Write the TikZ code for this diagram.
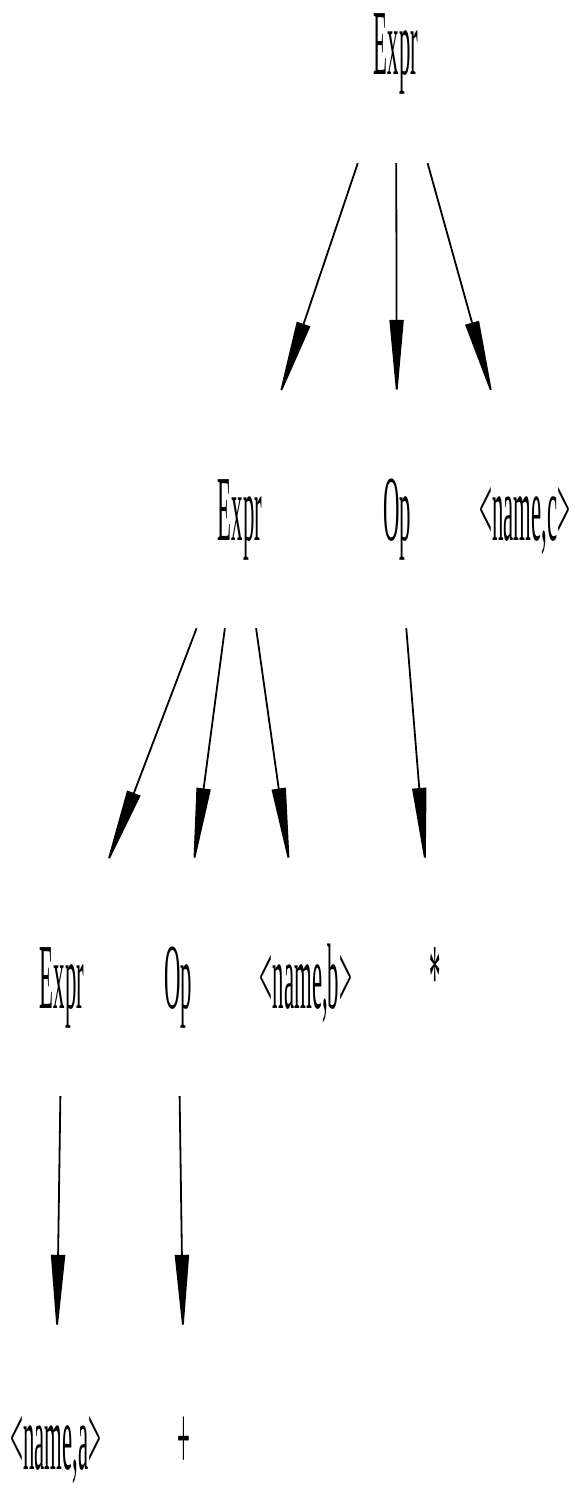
\documentclass[tikz,border=0pt]{standalone}
\usepackage{fontspec}
\setmainfont{Liberation Serif}
\usetikzlibrary{arrows.meta}

\begin{document}
\begin{tikzpicture}[
  x=1pt, y=-1pt,
  simbolo/.style={font=\fontsize{93}{93}\selectfont, inner sep=0pt,
                  text height=140pt, text depth=88pt, minimum width=380pt,
                  xscale=0.245, anchor=base},
  hoja/.style={simbolo, text height=134pt, text depth=0pt},
  arista/.style={-{Triangle[length=80pt, width=14pt]}, line width=1.8pt}
]
\useasboundingbox (0,0) rectangle (574,1490);

\node[simbolo] (raiz) at (396,75) {Expr};

\node[simbolo] (expr2) at (240,540) {Expr};
\node[simbolo] (op2) at (397,540) {Op};
\node[simbolo] (namec) at (525,540) {<name,c>};

\node[simbolo] (expr3) at (62,1008) {Expr};
\node[simbolo] (op3) at (178,1008) {Op};
\node[simbolo] (nameb) at (306,1008) {<name,b>};
\node[simbolo] (por) at (435,1008) {*};

\node[hoja] (namea) at (56,1469) {<name,a>};
\node[hoja] (mas) at (184,1469) {+};

\draw[arista] (raiz) -- (expr2);
\draw[arista] (raiz) -- (op2);
\draw[arista] (raiz) -- (namec);
\draw[arista] (expr2) -- (expr3);
\draw[arista] (expr2) -- (op3);
\draw[arista] (expr2) -- (nameb);
\draw[arista] (op2) -- (por);
\draw[arista] (expr3) -- (namea);
\draw[arista] (op3) -- (mas);
\end{tikzpicture}
\end{document}
